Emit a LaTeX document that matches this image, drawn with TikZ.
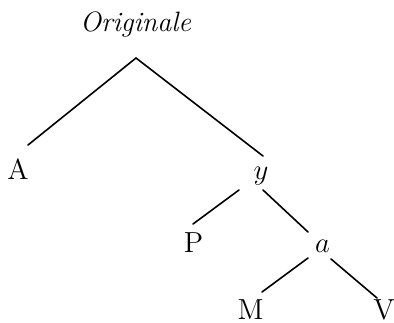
\documentclass[tikz,border=0pt]{standalone}
\begin{document}
\begin{tikzpicture}[x=0.5pt,y=-0.5pt,line cap=round,line join=round,
  branch/.style={line width=0.8pt},
  leaf/.style={anchor=base,inner sep=0pt,font=\fontsize{14.5}{16}\selectfont}]
  \useasboundingbox (0,0) rectangle (394,322);
  % labels
  \node[leaf,font=\fontsize{14}{16}\selectfont\itshape] (orig) at (135.5,31) {Originale};
  \node[leaf] (A) at (18,179) {A};
  \node[leaf] (y) at (261,179) {$y$};
  \node[leaf] (P) at (193.5,252) {P};
  \node[leaf] (a) at (322.5,252) {$a$};
  \node[leaf] (M) at (250.5,319) {M};
  \node[leaf] (V) at (384,319) {V};
  % branches
  \draw[branch] ([shift={(0.5,27)}]orig.base) -- ([shift={(10,-34)}]A.base);
  \draw[branch] ([shift={(0.5,27)}]orig.base) -- ([shift={(2,-23)}]y.base);
  \draw[branch] ([shift={(-22,11)}]y.base) -- ([shift={(-0.5,-28)}]P.base);
  \draw[branch] ([shift={(2,11)}]y.base) -- ([shift={(-14.5,-20)}]a.base);
  \draw[branch] ([shift={(-14.5,6)}]a.base) -- ([shift={(11.5,-27)}]M.base);
  \draw[branch] ([shift={(8.5,7)}]a.base) -- ([shift={(-7,-21)}]V.base);
\end{tikzpicture}
\end{document}
